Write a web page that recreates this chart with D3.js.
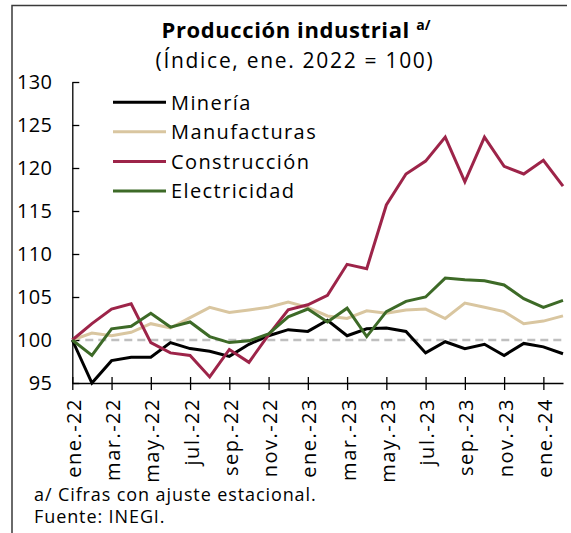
<!DOCTYPE html>
<html>
<head>
<meta charset="utf-8">
<script src="https://cdn.jsdelivr.net/npm/d3@7/dist/d3.min.js"></script>
<style>
  html, body { margin: 0; padding: 0; background: #fff; }
  svg { display: block; font-family: "Open Sans", sans-serif; }
</style>
</head>
<body>
<svg id="chart" width="571" height="533"></svg>
<script>
const months = ["ene.-22","feb.-22","mar.-22","abr.-22","may.-22","jun.-22","jul.-22","ago.-22","sep.-22","oct.-22","nov.-22","dic.-22",
  "ene.-23","feb.-23","mar.-23","abr.-23","may.-23","jun.-23","jul.-23","ago.-23","sep.-23","oct.-23","nov.-23","dic.-23",
  "ene.-24","feb.-24"];
const mineria = [100.0, 95.0, 97.6, 98.0, 98.0, 99.7, 99.0, 98.7, 98.1, 99.5, 100.5, 101.2,
  101.0, 102.3, 100.5, 101.3, 101.4, 101.0, 98.5, 99.8, 99.0, 99.5, 98.2, 99.6, 99.2, 98.4];
const manufacturas = [100.0, 100.8, 100.5, 100.9, 101.9, 101.4, 102.6, 103.8, 103.2, 103.5, 103.8, 104.4,
  103.8, 102.8, 102.5, 103.4, 103.1, 103.5, 103.6, 102.5, 104.3, 103.8, 103.3, 101.9, 102.2, 102.8];
const construccion = [100.0, 101.9, 103.6, 104.2, 99.7, 98.5, 98.2, 95.7, 98.9, 97.4, 100.6, 103.5,
  104.1, 105.2, 108.8, 108.3, 115.7, 119.3, 120.8, 123.6, 118.4, 123.6, 120.2, 119.3, 120.9, 117.9];
const electricidad = [100.0, 98.2, 101.3, 101.6, 103.1, 101.5, 102.1, 100.4, 99.7, 99.9, 100.7, 102.7,
  103.6, 102.1, 103.7, 100.4, 103.3, 104.5, 105.0, 107.2, 107.0, 106.9, 106.4, 104.8, 103.8, 104.6];
const seriesNames = ["Minería", "Manufacturas", "Construcción", "Electricidad"];
const seriesColors = ["#000000", "#d9c6a0", "#9d2449", "#3d6a27"];
const yTicks = [95, 100, 105, 110, 115, 120, 125, 130];
const title = "Producción industrial";
const titleSup = "a/";
const subtitle = "(Índice, ene. 2022 = 100)";
const notes = ["a/ Cifras con ajuste estacional.", "Fuente: INEGI."];

const allSeries = [mineria, manufacturas, construccion, electricidad];
const svg = d3.select("#chart");

// frame
svg.append("path")
  .attr("d", "M12,540V5.5H567")
  .attr("fill", "none").attr("stroke", "#3a3a3a").attr("stroke-width", 1.5);

// title
const t = svg.append("text").attr("x", 296).attr("y", 38).attr("text-anchor", "middle")
  .attr("font-weight", "bold").attr("font-size", 22).attr("letter-spacing", 0.6).attr("fill", "#000");
t.append("tspan").text(title + " ");
t.append("tspan").attr("font-size", 14).attr("letter-spacing", 0).attr("dy", -8).text(titleSup);
svg.append("text").attr("x", 295).attr("y", 68).attr("text-anchor", "middle")
  .attr("font-size", 21).attr("letter-spacing", 1.7).attr("fill", "#000").text(subtitle);

const x = d3.scalePoint().domain(months).range([72.3, 563]);
const y = d3.scaleLinear().domain([95, 130]).range([383, 82]);

// baseline 100 dashed
svg.append("line")
  .attr("x1", 72.3).attr("x2", 563).attr("y1", y(100)).attr("y2", y(100))
  .attr("stroke", "#bfbfbf").attr("stroke-width", 2.5).attr("stroke-dasharray", "8,5");

// y axis
const yAxis = svg.append("g").attr("transform", "translate(72.3,0)")
  .call(d3.axisLeft(y).tickValues(yTicks).tickSizeInner(-7).tickSizeOuter(0).tickPadding(20));
yAxis.select(".domain").attr("stroke", "#000").attr("stroke-width", 1.3);
yAxis.selectAll(".tick line").attr("stroke", "#000").attr("stroke-width", 1.3);
yAxis.selectAll(".tick text").attr("font-size", 20).attr("letter-spacing", 0.3).attr("fill", "#000")
  .attr("font-family", "Open Sans, sans-serif");

// x axis
const xTickVals = months.filter((d, i) => i % 2 === 0);
const xAxis = svg.append("g").attr("transform", `translate(0,${y(95)})`)
  .call(d3.axisBottom(x).tickValues(xTickVals).tickSizeInner(7).tickSizeOuter(0).tickPadding(15));
xAxis.select(".domain").attr("stroke", "#000").attr("stroke-width", 1.3);
xAxis.selectAll(".tick line").attr("y1", -6).attr("stroke", "#000").attr("stroke-width", 1.3);
xAxis.selectAll(".tick text")
  .attr("font-size", 20).attr("letter-spacing", 1.5).attr("fill", "#000").attr("font-family", "Open Sans, sans-serif")
  .attr("text-anchor", "end")
  .attr("transform", "rotate(-90)")
  .attr("x", -15).attr("y", 0).attr("dy", "0.4em");

// lines
const line = d3.line().x((d, i) => x(months[i])).y(d => y(d));
allSeries.forEach((s, k) => {
  svg.append("path").datum(s)
    .attr("d", line)
    .attr("fill", "none")
    .attr("stroke", seriesColors[k])
    .attr("stroke-width", 3)
    .attr("stroke-linejoin", "miter");
});

// legend
const legendY = d3.scalePoint().domain(seriesNames).range([102.3, 191]);
seriesNames.forEach((n, k) => {
  const ly = legendY(n);
  svg.append("line").attr("x1", 113).attr("x2", 166).attr("y1", ly).attr("y2", ly)
    .attr("stroke", seriesColors[k]).attr("stroke-width", 3);
  svg.append("text").attr("x", 171).attr("y", ly).attr("dy", "0.36em")
    .attr("font-size", 20).attr("letter-spacing", 1.4).attr("fill", "#000").text(n);
});

// notes
notes.forEach((n, i) => {
  svg.append("text").attr("x", 34).attr("y", 500.7 + i * 22.5)
    .attr("font-size", 18).attr("letter-spacing", 0.9).attr("fill", "#000").text(n);
});
</script>
</body>
</html>
